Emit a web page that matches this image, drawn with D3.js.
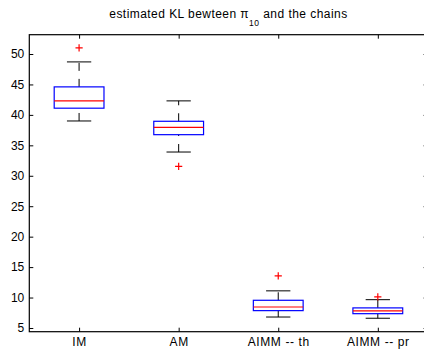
<!DOCTYPE html>
<html>
<head>
<meta charset="utf-8">
<script src="https://cdn.jsdelivr.net/npm/d3@7/dist/d3.min.js"></script>
<style>
  html, body { margin: 0; padding: 0; background: #fff; overflow: hidden; }
  svg { display: block; font-family: "Liberation Sans", Arial, Helvetica, sans-serif; }
</style>
</head>
<body>
<svg id="chart" width="424" height="349"></svg>
<script>
// Chain names along the x axis
const categories = ["IM", "AM", "AIMM -- th", "AIMM -- pr"];
// Box statistics per chain
const lowerWhisker = [39.0, 33.9, 6.8, 6.6];
const q1 = [41.1, 36.75, 7.85, 7.35];
const median = [42.3, 37.95, 8.45, 7.8];
const q3 = [44.6, 38.95, 9.55, 8.3];
const upperWhisker = [48.7, 42.3, 11.1, 9.65];
// Outlying points per chain
const outliers = [[51.0], [31.55], [13.55], [10.1]];
// Y tick values
const yTicks = [5, 10, 15, 20, 25, 30, 35, 40, 45, 50];

const svg = d3.select("#chart");
const plotLeft = 29.3, plotRight = 427.6, plotTop = 34.7, plotBottom = 331.7;

const x = d3.scaleLinear().domain([0.5, 4.5]).range([plotLeft, plotRight]);
const y = d3.scaleLinear().domain([4.39, 53.17]).range([plotBottom, plotTop]);

const boxHalf = 0.25, capHalf = 0.122;

// Title with subscripted index
const title = svg.append("text")
  .attr("x", (plotLeft + plotRight) / 2).attr("y", 17.5)
  .attr("text-anchor", "middle")
  .attr("font-size", 12).attr("letter-spacing", 0.45).attr("fill", "#000");
title.append("tspan").text("estimated KL bewteen \u03C0");
title.append("tspan").attr("font-size", 8.5).attr("dy", 8).text("10");
title.append("tspan").attr("dy", -8).text(" and the chains");

// Axes with inward ticks on all four sides
const idx = categories.map((d, i) => i + 1);
svg.append("g").attr("transform", `translate(${plotLeft},0)`)
  .call(d3.axisLeft(y).tickValues(yTicks).tickSizeInner(-4).tickSizeOuter(0).tickPadding(5))
  .call(g => g.select(".domain").remove())
  .call(g => g.selectAll("text").attr("font-size", 12).attr("fill", "#000").attr("font-family", null));
svg.append("g").attr("transform", `translate(${plotRight},0)`)
  .call(d3.axisRight(y).tickValues(yTicks).tickSizeInner(-4).tickSizeOuter(0).tickFormat(""))
  .call(g => g.select(".domain").remove());
svg.append("g").attr("transform", `translate(0,${plotBottom})`)
  .call(d3.axisBottom(x).tickValues(idx).tickSizeInner(-4).tickSizeOuter(0).tickPadding(5.3)
    .tickFormat((d) => categories[d - 1]))
  .call(g => g.select(".domain").remove())
  .call(g => g.selectAll("text").attr("font-size", 12).attr("fill", "#000").attr("font-family", null)
    .attr("letter-spacing", 0.6));
svg.append("g").attr("transform", `translate(0,${plotTop})`)
  .call(d3.axisTop(x).tickValues(idx).tickSizeInner(-4).tickSizeOuter(0).tickFormat(""))
  .call(g => g.select(".domain").remove());
svg.selectAll(".tick line").attr("stroke", "#000");

svg.append("rect")
  .attr("x", plotLeft).attr("y", plotTop)
  .attr("width", plotRight - plotLeft).attr("height", plotBottom - plotTop)
  .attr("fill", "none").attr("stroke", "#000").attr("stroke-width", 1.2);

// Boxes
const data = categories.map((c, i) => ({
  pos: i + 1, lo: lowerWhisker[i], q1: q1[i], med: median[i], q3: q3[i], hi: upperWhisker[i], out: outliers[i]
}));
const g = svg.append("g");
const boxes = g.selectAll("g.box").data(data).join("g").attr("class", "box");

// Dashed whiskers, drawn from low value to high value
boxes.append("line")
  .attr("x1", d => x(d.pos)).attr("x2", d => x(d.pos))
  .attr("y1", d => y(d.lo)).attr("y2", d => y(d.q1))
  .attr("stroke", "#000").attr("stroke-dasharray", "8,8");
boxes.append("line")
  .attr("x1", d => x(d.pos)).attr("x2", d => x(d.pos))
  .attr("y1", d => y(d.q3)).attr("y2", d => y(d.hi))
  .attr("stroke", "#000").attr("stroke-dasharray", "8,8");
// Whisker caps
["lo", "hi"].forEach(k => {
  boxes.append("line")
    .attr("x1", d => x(d.pos - capHalf)).attr("x2", d => x(d.pos + capHalf))
    .attr("y1", d => y(d[k])).attr("y2", d => y(d[k]))
    .attr("stroke", "#000");
});
// Box outline
boxes.append("rect")
  .attr("x", d => x(d.pos - boxHalf)).attr("width", d => x(d.pos + boxHalf) - x(d.pos - boxHalf))
  .attr("y", d => y(d.q3)).attr("height", d => y(d.q1) - y(d.q3))
  .attr("fill", "none").attr("stroke", "#0000ff").attr("stroke-width", 1.2);
// Median
boxes.append("line")
  .attr("x1", d => x(d.pos - boxHalf)).attr("x2", d => x(d.pos + boxHalf))
  .attr("y1", d => y(d.med)).attr("y2", d => y(d.med))
  .attr("stroke", "#ff0000").attr("stroke-width", 1.2);
// Outliers as red plus signs
boxes.selectAll("path.out").data(d => d.out.map(v => ({ pos: d.pos, v })))
  .join("path").attr("class", "out")
  .attr("d", d => {
    const cx = x(d.pos), cy = y(d.v), s = 3.6;
    return `M${cx - s},${cy}H${cx + s}M${cx},${cy - s}V${cy + s}`;
  })
  .attr("stroke", "#ff0000").attr("stroke-width", 1.2).attr("fill", "none");
</script>
</body>
</html>
